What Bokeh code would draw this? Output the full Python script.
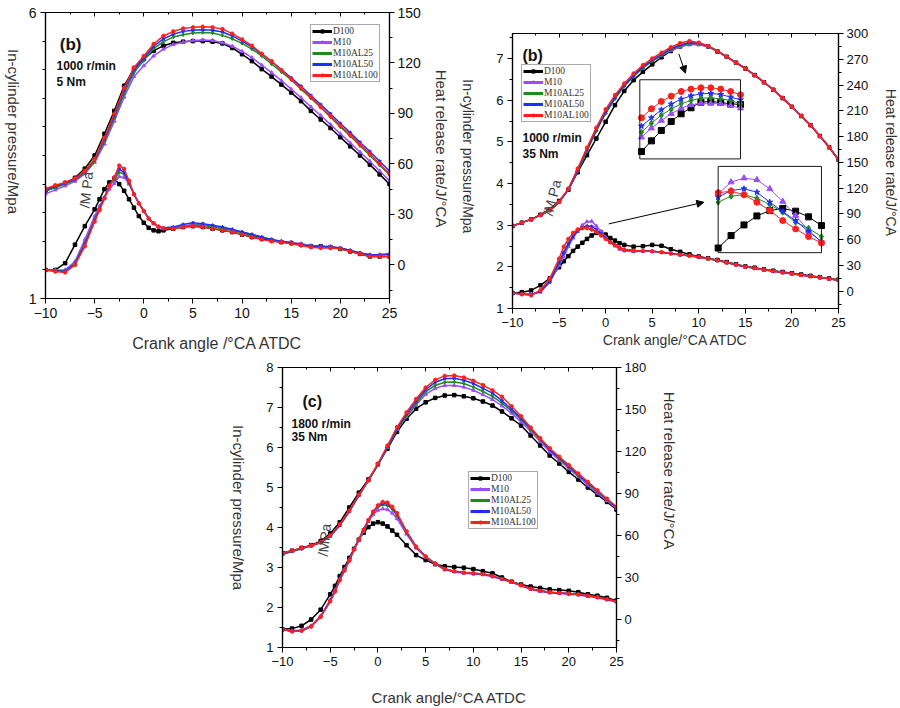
import math
from bokeh.plotting import figure
from bokeh.models import (Range1d, LinearAxis, FixedTicker, SingleIntervalTicker, Legend, LegendItem,
                          Label, Arrow, NormalHead, BoxAnnotation, Spacer)
from bokeh.layouts import row, column
from bokeh.embed import file_html
from bokeh.resources import INLINE

SERIES = ["D100", "M10", "M10AL25", "M10AL50", "M10AL100"]
COLORS = ["#000000", "#9a4dff", "#1f8a1f", "#1f2dff", "#ff1f1f"]
MARKERS = ["square", "triangle", "diamond", "star", "circle"]

# crank angle grids
CA_P = [-10, -9, -8, -7, -6, -5, -4, -3, -2, -1, 0, 1, 2, 3, 4, 5, 6, 7, 8, 9, 10, 11, 12,
        13, 14, 15, 16, 17, 18, 19, 20, 21, 22, 23, 24, 25]
CA_H = [-10, -9, -8, -7, -6, -5, -4.5, -4, -3.5, -3, -2.5, -2, -1.5, -1, -0.5, 0, 0.5, 1, 1.5, 2,
        3, 4, 5, 6, 7, 8, 9, 10, 11, 12, 13, 14, 15, 16, 17, 18, 19, 20, 21, 22, 23, 24, 25]

# ---------- panel (a): 1000 r/min, 5 Nm ----------
A_P_D100 = [2.88, 2.95, 3.02, 3.11, 3.27, 3.5, 3.88, 4.28, 4.72, 5.01, 5.19, 5.33, 5.42, 5.47, 5.49, 5.5, 5.5, 5.49,
            5.46, 5.38, 5.27, 5.15, 5.01, 4.88, 4.74, 4.6, 4.45, 4.28, 4.13, 3.98, 3.82, 3.66, 3.5, 3.34, 3.17, 3.0]
A_P_M10 = [2.83, 2.9, 2.97, 3.05, 3.18, 3.38, 3.7, 4.1, 4.52, 4.88, 5.07, 5.24, 5.36, 5.44, 5.48, 5.51, 5.52, 5.51,
           5.47, 5.41, 5.32, 5.21, 5.08, 4.95, 4.81, 4.66, 4.51, 4.35, 4.2, 4.04, 3.88, 3.72, 3.56, 3.4, 3.23, 3.06]
A_P_AL25 = [2.88, 2.94, 3.0, 3.07, 3.2, 3.4, 3.75, 4.15, 4.58, 4.95, 5.16, 5.37, 5.49, 5.57, 5.61, 5.64, 5.65, 5.64,
            5.6, 5.54, 5.46, 5.36, 5.24, 5.1, 4.96, 4.82, 4.66, 4.5, 4.34, 4.17, 4.0, 3.84, 3.67, 3.5, 3.33, 3.16]
A_P_AL50 = [2.9, 2.96, 3.02, 3.09, 3.22, 3.43, 3.79, 4.2, 4.64, 5.0, 5.2, 5.41, 5.54, 5.62, 5.67, 5.69, 5.7, 5.69,
            5.66, 5.59, 5.5, 5.4, 5.27, 5.14, 5.0, 4.86, 4.71, 4.55, 4.39, 4.23, 4.06, 3.9, 3.73, 3.57, 3.4, 3.23]
A_P_AL100 = [2.92, 2.98, 3.03, 3.1, 3.23, 3.44, 3.81, 4.23, 4.68, 5.04, 5.24, 5.45, 5.59, 5.67, 5.72, 5.74, 5.75, 5.74,
             5.71, 5.63, 5.53, 5.42, 5.28, 5.15, 4.99, 4.84, 4.68, 4.52, 4.35, 4.19, 4.02, 3.86, 3.69, 3.53, 3.35, 3.18]

A_H_D100 = [-3, -3, 1, 12, 23, 33, 39, 45, 49, 51, 48, 44, 39, 34, 29, 25, 22, 20.5, 20, 20.5,
            21.5, 22.5, 23, 22.5, 21.5, 20.5, 19.5, 18, 16.5, 15.5, 14.5, 13.5, 13, 12, 11, 11, 10.5, 9.5, 8, 6.5, 5, 5, 5]
A_H_M10 = [-3, -3, -3, 2, 15, 29, 35, 40, 45, 48.5, 52.5, 52, 48, 42, 36.5, 32, 27.5, 24.5, 22.5, 21.5,
           22, 23, 24, 24, 23, 22, 21, 19.5, 18, 16.5, 15, 14, 13.5, 12.5, 11.5, 11, 11, 10, 8.5, 7, 6, 6, 6.5]
A_H_AL25 = [-3, -3.5, -3.5, 1, 13, 27, 33.5, 40, 47, 51, 55, 54, 48.7, 42, 36.5, 32, 27.5, 24.7, 22.7, 21.7,
            21.7, 22.5, 23.5, 23.5, 22.5, 21.5, 20.5, 19, 17.5, 16, 15, 14, 13, 12, 11, 11, 10.5, 10, 8.5, 7, 5.5, 5, 5]
A_H_AL50 = [-3, -3.5, -4, 0.5, 12, 26.5, 33, 40, 47.5, 52, 57, 55, 49, 42, 36.5, 32, 27.5, 24.7, 22.7, 22,
            22.5, 24, 25, 24.5, 23.5, 22.5, 21, 19.5, 18, 16.5, 15, 14, 13, 12, 11, 11, 10.5, 10, 8.5, 7, 6, 6, 6.5]
A_H_AL100 = [-3, -4, -4.5, 0, 11, 25.7, 32.6, 39.5, 47, 52, 59, 57, 50, 42, 36.5, 32, 27.5, 24.7, 22.7, 21.7,
             21.5, 22.5, 23, 22.5, 21.5, 20.5, 19.5, 18, 16.5, 15, 14, 13.5, 12.5, 11.5, 10.5, 10, 10, 9.5, 8, 6.5, 5, 5, 5]

# ---------- panel (b): 1000 r/min, 35 Nm ----------
B_P_D100 = [2.98, 3.06, 3.14, 3.25, 3.38, 3.58, 3.85, 4.27, 4.68, 5.08, 5.48, 5.88, 6.22, 6.48, 6.68, 6.86, 7.03, 7.18,
            7.29, 7.35, 7.35, 7.29, 7.17, 7.04, 6.9, 6.76, 6.6, 6.43, 6.25, 6.05, 5.84, 5.62, 5.4, 5.14, 4.87, 4.57]
B_P_M10 = [2.98, 3.06, 3.14, 3.24, 3.35, 3.55, 3.85, 4.3, 4.8, 5.28, 5.7, 6.05, 6.35, 6.58, 6.78, 6.94, 7.07, 7.19,
           7.28, 7.33, 7.33, 7.28, 7.17, 7.04, 6.9, 6.76, 6.6, 6.43, 6.25, 6.05, 5.84, 5.62, 5.4, 5.14, 4.87, 4.57]
B_P_AL25 = [2.98, 3.06, 3.14, 3.24, 3.35, 3.55, 3.86, 4.3, 4.78, 5.26, 5.68, 6.03, 6.33, 6.57, 6.77, 6.94, 7.08, 7.21,
            7.31, 7.36, 7.36, 7.29, 7.18, 7.04, 6.9, 6.76, 6.6, 6.43, 6.25, 6.05, 5.84, 5.62, 5.4, 5.14, 4.87, 4.57]
B_P_AL50 = [2.98, 3.06, 3.14, 3.24, 3.35, 3.55, 3.86, 4.33, 4.82, 5.3, 5.72, 6.07, 6.36, 6.6, 6.8, 6.96, 7.1, 7.23,
            7.33, 7.38, 7.37, 7.3, 7.18, 7.04, 6.9, 6.76, 6.6, 6.43, 6.25, 6.05, 5.84, 5.62, 5.4, 5.14, 4.87, 4.57]
B_P_AL100 = [2.98, 3.06, 3.14, 3.24, 3.36, 3.56, 3.88, 4.36, 4.86, 5.34, 5.78, 6.12, 6.4, 6.64, 6.84, 7.0, 7.14, 7.27,
             7.37, 7.42, 7.38, 7.3, 7.18, 7.04, 6.9, 6.76, 6.6, 6.43, 6.25, 6.05, 5.84, 5.62, 5.4, 5.14, 4.87, 4.57]

B_H_D100 = [-2, -1, 1, 7, 15, 28, 35, 41, 47, 52, 56.5, 61, 65, 68, 68.5, 66, 62, 59, 56, 54,
            52, 52.5, 54, 53, 49, 46, 43, 40.5, 38.5, 36.5, 34, 31.5, 29, 27.5, 25.5, 24, 22.5, 21, 19.5, 18, 16.5, 15, 13.5]
B_H_M10 = [-2, -3, -3, -1, 11, 30, 40, 52, 62, 70, 77, 81, 81.5, 76, 70, 63, 57, 53, 49, 47,
           46, 46.5, 46.5, 45.5, 44, 42.5, 41.5, 40, 38, 36, 33.5, 31, 28.5, 27, 25, 23.5, 22, 20.5, 19, 17.5, 16, 14.5, 13]
B_H_AL25 = [-2, -3, -4, 0, 11, 33, 45, 56, 65, 71, 73, 73, 72, 70, 66, 62, 57.5, 54, 50.5, 48.5,
            47.5, 47, 46.5, 45.5, 44, 42.5, 41.5, 40, 38, 36, 33.5, 31, 28.5, 27, 25, 23.5, 22, 20.5, 19, 17.5, 16, 14.5, 13]
B_H_AL50 = [-2, -3, -4, 0, 11, 34, 45, 55, 64, 70, 74, 76, 75.5, 72, 67, 62, 57.5, 54, 50.5, 48.5,
            47.5, 47, 46.5, 45.5, 44, 42.5, 41.5, 40, 38, 36, 33.5, 31, 28.5, 27, 25, 23.5, 22, 20.5, 19, 17.5, 16, 14.5, 13]
B_H_AL100 = [-2, -3.5, -4.7, 1.2, 14.7, 38, 52, 61, 68, 72, 74, 73.8, 72, 69, 65, 61, 57, 53.5, 50.5, 48.5,
             47.5, 47, 46.5, 45.5, 44, 42.5, 41.5, 40, 38, 36, 33.5, 31, 28.5, 27, 25, 23.5, 22, 20.5, 19, 17.5, 16, 14.5, 13]

# insets of panel (b) (relative units, axes unlabeled)
IN1_X = [0, 1, 2, 3, 4, 5, 6, 7, 8, 9, 10]
IN1_D100 = [9.3, 22.8, 35.9, 47.3, 57.0, 64.6, 71.7, 72.6, 71.3, 69.6, 68.8]
IN1_M10 = [27.4, 38.8, 48.5, 57.0, 64.1, 68.4, 70.5, 70.0, 69.6, 67.1, 64.1]
IN1_AL25 = [33.8, 45.1, 55.3, 62.9, 69.6, 73.8, 76.8, 77.2, 75.9, 73.8, 69.6]
IN1_AL50 = [41.4, 51.9, 62.0, 69.2, 75.5, 79.7, 82.3, 82.7, 81.4, 78.1, 74.7]
IN1_AL100 = [51.9, 63.3, 72.6, 79.3, 85.2, 88.2, 89.9, 89.9, 88.2, 85.2, 81.0]

IN2_X = [0, 1, 2, 3, 4, 5, 6, 7, 8]
IN2_D100 = [5.4, 19.8, 32.2, 42.6, 48.8, 51.2, 48.1, 41.5, 31.4]
IN2_M10 = [68.2, 81.8, 86.4, 84.5, 74.0, 59.3, 43.0, 25.6, 12.8]
IN2_AL25 = [58.5, 65.5, 67.1, 63.1, 55.8, 46.9, 35.2, 28.3, 18.6]
IN2_AL50 = [64.3, 72.1, 74.1, 70.1, 58.5, 47.7, 37.2, 24.4, 12.8]
IN2_AL100 = [69.4, 71.3, 67.1, 58.5, 48.8, 37.2, 27.5, 18.6, 11.2]

# ---------- panel (c): 1800 r/min, 35 Nm ----------
C_P_D100 = [3.36, 3.42, 3.49, 3.56, 3.66, 3.85, 4.13, 4.5, 4.87, 5.2, 5.58, 5.97, 6.39, 6.72, 6.97, 7.13, 7.24, 7.3,
            7.31, 7.28, 7.23, 7.15, 7.05, 6.9, 6.73, 6.55, 6.3, 6.05, 5.8, 5.6, 5.39, 5.2, 5.0, 4.82, 4.64, 4.45]
C_P_M10 = [3.33, 3.4, 3.47, 3.54, 3.62, 3.78, 4.05, 4.4, 4.8, 5.17, 5.56, 6.0, 6.45, 6.77, 7.06, 7.33, 7.48, 7.55,
           7.55, 7.51, 7.43, 7.32, 7.2, 7.04, 6.86, 6.64, 6.4, 6.15, 5.89, 5.68, 5.47, 5.27, 5.06, 4.86, 4.67, 4.48]
C_P_AL25 = [3.33, 3.4, 3.47, 3.54, 3.62, 3.78, 4.05, 4.4, 4.8, 5.17, 5.56, 6.0, 6.45, 6.8, 7.1, 7.4, 7.55, 7.63,
            7.64, 7.6, 7.51, 7.4, 7.28, 7.11, 6.92, 6.7, 6.45, 6.2, 5.93, 5.72, 5.51, 5.3, 5.1, 4.9, 4.7, 4.5]
C_P_AL50 = [3.34, 3.41, 3.48, 3.55, 3.63, 3.79, 4.06, 4.41, 4.81, 5.18, 5.58, 6.02, 6.48, 6.84, 7.16, 7.45, 7.63, 7.72,
            7.73, 7.68, 7.6, 7.48, 7.36, 7.17, 6.96, 6.73, 6.48, 6.22, 5.95, 5.74, 5.53, 5.32, 5.12, 4.92, 4.71, 4.51]
C_P_AL100 = [3.36, 3.42, 3.49, 3.55, 3.63, 3.8, 4.08, 4.42, 4.82, 5.18, 5.6, 6.05, 6.51, 6.88, 7.21, 7.5, 7.69, 7.79,
             7.8, 7.75, 7.67, 7.56, 7.43, 7.27, 7.03, 6.78, 6.5, 6.23, 5.98, 5.77, 5.56, 5.35, 5.14, 4.93, 4.72, 4.52]

C_H_D100 = [-7, -6.5, -4.5, 0, 7, 18, 24, 31, 37.5, 44, 50.5, 57, 62, 66, 68.5, 69.5, 68.5, 66.5, 63.5, 60.5,
            53, 46, 42.5, 39.5, 38, 37.5, 37, 36, 34.5, 33, 30, 27, 25, 23.5, 22.5, 21.5, 21, 20.5, 19.5, 18, 17, 15.5, 13.5]
C_H_M10 = [-7, -8, -7.5, -4.5, 2.5, 14, 21, 29, 36, 43, 50, 56.5, 63, 70, 75, 78, 79, 78.5, 76, 72,
           61, 51, 44.5, 39.5, 35.5, 34, 33, 32.5, 32, 30.5, 28.5, 26.5, 24, 21.5, 20, 19, 18.5, 18, 17.5, 16.5, 15.5, 14, 12.5]
C_H_AL25 = [-7, -8.5, -8, -5, 2, 13, 20, 28, 35, 42, 50, 57, 64, 70.5, 76.5, 80.5, 82, 81.5, 79, 74.5,
            62.5, 52, 45, 40, 36, 34.5, 33.5, 33, 32.5, 31, 29, 27, 24.5, 22, 20.5, 19.5, 19, 18.5, 18, 17, 16, 14.5, 13]
C_H_AL50 = [-7, -8.5, -8, -5, 2, 13.5, 20.5, 28.5, 35.5, 42.5, 50.5, 57.5, 64.5, 71, 77, 81, 83, 82.5, 79.5, 75,
            62.5, 52, 45, 40, 36, 34.5, 33.5, 33, 32.5, 31, 29, 27, 24.5, 22, 20.5, 19.5, 19, 18.5, 18, 17, 16, 14.5, 13]
C_H_AL100 = [-7, -8.5, -8, -5, 2, 13, 20, 28, 35, 42, 50, 57, 64, 71, 77, 81.5, 84, 83.5, 80.5, 76,
             63, 52, 45, 40, 36, 34.5, 33.5, 33, 32.5, 31, 29, 27, 24.5, 22, 20.5, 19.5, 19, 18.5, 18, 17, 16, 14.5, 13]

# axis tick positions for panel (a) left axis
A_LEFT_TICKS = [1, 6]
A_LEFT_MINOR = [1.5, 2, 2.5, 3, 3.5, 4, 4.5, 5, 5.5]

DEG = "\u00b0"
SANS = "Liberation Sans"
SERIF = "Liberation Serif"
YLABEL = "In-cylinder pressure/Mpa"
Y2LABEL = "Heat release rate/J/" + DEG + "CA"


def style_axis(ax, fs_tick, fs_lab, tick_stand=4, lab_stand=8):
    ax.axis_line_color = "black"
    ax.axis_line_width = 1.2
    ax.major_tick_line_color = "black"
    ax.minor_tick_line_color = "black"
    ax.major_tick_out = 5
    ax.major_tick_in = 0
    ax.minor_tick_out = 3
    ax.minor_tick_in = 0
    ax.major_label_text_font = SANS
    ax.major_label_text_font_size = fs_tick
    ax.major_label_text_color = "#111111"
    ax.major_label_standoff = tick_stand
    ax.axis_label_text_font = SANS
    ax.axis_label_text_font_size = fs_lab
    ax.axis_label_text_font_style = "normal"
    ax.axis_label_text_color = "#333333"
    ax.axis_label_standoff = lab_stand


def add_text(p, x, y, text, size, bold=True, angle=0, color="#111111", align="left", baseline="alphabetic"):
    p.add_layout(Label(x=x, y=y, text=text, text_font=SANS, text_font_size=size,
                       text_font_style="bold" if bold else "normal", angle=angle,
                       text_color=color, text_align=align, text_baseline=baseline))


def title_strip(width, height, text, fs, fx, fy):
    """A narrow empty plot that only carries a vertical axis title reading top to bottom."""
    s = figure(width=width, height=height, x_range=Range1d(0, 1), y_range=Range1d(0, 1),
               output_backend="svg", toolbar_location=None, x_axis_location=None, y_axis_location=None,
               min_border=0, min_border_left=0, min_border_right=0, min_border_top=0, min_border_bottom=0)
    s.outline_line_color = None
    s.grid.visible = False
    s.background_fill_color = "white"
    s.border_fill_color = "white"
    add_text(s, fx, fy, text, fs, bold=False, angle=-math.pi / 2, color="#333333",
             align="center", baseline="middle")
    return s


def make_panel(width, height, borders, yrange, y2range, lticker, rticker, xlabel, press, heat,
               fs_tick, fs_xlab, xstand, legend_loc):
    p = figure(width=width, height=height, x_range=Range1d(-10, 25), y_range=Range1d(*yrange),
               output_backend="svg", toolbar_location=None,
               min_border_left=borders[0], min_border_right=borders[1],
               min_border_top=borders[2], min_border_bottom=borders[3])
    p.extra_y_ranges = {"hrr": Range1d(*y2range)}
    p.xgrid.visible = False
    p.ygrid.visible = False
    p.outline_line_color = "black"
    p.outline_line_width = 1.2
    p.background_fill_color = "white"
    p.border_fill_color = "white"

    xa = p.xaxis[0]
    xa.ticker = SingleIntervalTicker(interval=5, num_minor_ticks=2)
    xa.axis_label = xlabel
    style_axis(xa, fs_tick, fs_xlab, 4, xstand)

    ya = p.yaxis[0]
    ya.ticker = lticker
    style_axis(ya, fs_tick, fs_xlab, 4, 0)

    ra = LinearAxis(y_range_name="hrr", ticker=rticker)
    style_axis(ra, fs_tick, fs_xlab, 3, 0)
    p.add_layout(ra, "right")

    ta = LinearAxis(ticker=SingleIntervalTicker(interval=5, num_minor_ticks=2))
    style_axis(ta, "1px", "1px", 0, 0)
    ta.major_tick_out = 0
    ta.major_tick_in = 4
    ta.minor_tick_out = 0
    ta.minor_tick_in = 2
    ta.major_label_text_alpha = 0
    p.add_layout(ta, "above")

    items = []
    for i, name in enumerate(SERIES):
        p.line(CA_P, press[i], line_color=COLORS[i], line_width=1.5)
        p.scatter(CA_P, press[i], marker=MARKERS[i], size=3.5, line_color=COLORS[i], fill_color=COLORS[i])
        p.line(CA_H, heat[i], line_color=COLORS[i], line_width=1.5, y_range_name="hrr")
        p.scatter(CA_H, heat[i], marker=MARKERS[i], size=3.5, line_color=COLORS[i], fill_color=COLORS[i],
                  y_range_name="hrr")
        # hidden twins used only for the (thicker) legend swatches
        k1 = p.line(CA_P, press[i], line_color=COLORS[i], line_width=3, visible=False)
        k2 = p.scatter(CA_P, press[i], marker=MARKERS[i], size=4, line_color=COLORS[i], fill_color=COLORS[i],
                       visible=False)
        items.append(LegendItem(label=name, renderers=[k1, k2]))
    leg = Legend(items=items, location=legend_loc, border_line_color="#555555", border_line_width=1,
                 background_fill_alpha=1, label_text_font=SERIF, label_text_font_size="9.5px",
                 label_text_color="#333333", glyph_width=20, glyph_height=8, label_height=8,
                 spacing=1, padding=1, margin=0, label_standoff=1, click_policy="none")
    p.add_layout(leg)
    return p


# ---------------- panel (a) ----------------
pa = make_panel(403, 355, (20, 39, 12, 57), (1, 6), (-20, 150),
                FixedTicker(ticks=A_LEFT_TICKS, minor_ticks=A_LEFT_MINOR),
                SingleIntervalTicker(interval=30, num_minor_ticks=2),
                "Crank angle /" + DEG + "CA ATDC",
                [A_P_D100, A_P_M10, A_P_AL25, A_P_AL50, A_P_AL100],
                [A_H_D100, A_H_M10, A_H_AL25, A_H_AL50, A_H_AL100],
                "14px", "16px", 14, (265, 216))
add_text(pa, -8.55, 5.44, "(b)", "17px")
add_text(pa, -8.88, 5.07, "1000 r/min", "12px")
add_text(pa, -8.88, 4.79, "5 Nm", "12px")
add_text(pa, -5.85, 2.9, "/M Pa", "14px", bold=False, angle=math.pi / 2 - 0.1, color="#444444", align="center")
la = title_strip(25, 355, YLABEL, "15px", 0.5, 0.631)
ra_ = title_strip(22, 355, Y2LABEL, "15px", 0.61, 0.583)

# ---------------- panel (b) ----------------
pb = make_panel(401, 355, (35, 40, 33, 47), (1, 7.6), (-20, 300),
                SingleIntervalTicker(interval=1, num_minor_ticks=2),
                SingleIntervalTicker(interval=30, num_minor_ticks=2),
                "Crank angle/" + DEG + "CA ATDC",
                [B_P_D100, B_P_M10, B_P_AL25, B_P_AL50, B_P_AL100],
                [B_H_D100, B_H_M10, B_H_AL25, B_H_AL50, B_H_AL100],
                "13px", "14px", 2, (9, 186))
add_text(pb, -8.93, 7.07, "(b)", "16px")
add_text(pb, -8.93, 5.1, "1000 r/min", "12px")
add_text(pb, -8.93, 4.72, "35 Nm", "12px")
add_text(pb, -5.75, 3.66, "/M Pa", "14px", bold=False, angle=math.pi / 2 - 0.25, color="#444444", align="center")
lb = title_strip(27, 355, YLABEL, "14px", 0.63, 0.561)
rb = title_strip(22, 355, Y2LABEL, "14px", 0.57, 0.544)

# insets
pb.add_layout(BoxAnnotation(left=3.67, right=14.48, bottom=4.59, top=6.49, fill_alpha=0,
                            line_color="black", line_width=1, line_alpha=0.9))
pb.add_layout(BoxAnnotation(left=12.08, right=23.17, bottom=2.34, top=4.41, fill_alpha=0,
                            line_color="black", line_width=1, line_alpha=0.9))
sub1 = pb.subplot(x_source=Range1d(-0.17, 10), y_source=Range1d(0, 100),
                  x_target=Range1d(3.67, 14.48), y_target=Range1d(4.59, 6.49))
sub2 = pb.subplot(x_source=Range1d(0, 8), y_source=Range1d(0, 100),
                  x_target=Range1d(12.08, 23.17), y_target=Range1d(2.34, 4.41))
for i, (v1, v2) in enumerate(zip([IN1_D100, IN1_M10, IN1_AL25, IN1_AL50, IN1_AL100],
                                 [IN2_D100, IN2_M10, IN2_AL25, IN2_AL50, IN2_AL100])):
    sub1.line(IN1_X, v1, line_color=COLORS[i], line_width=1)
    sub1.scatter(IN1_X, v1, marker=MARKERS[i], size=6, line_color=COLORS[i], fill_color=COLORS[i])
    sub2.line(IN2_X, v2, line_color=COLORS[i], line_width=1)
    sub2.scatter(IN2_X, v2, marker=MARKERS[i], size=6, line_color=COLORS[i], fill_color=COLORS[i])
pb.add_layout(Arrow(end=NormalHead(size=7, fill_color="black", line_color="black"),
                    x_start=7.86, y_start=7.11, x_end=8.57, y_end=6.65, line_width=1))
pb.add_layout(Arrow(end=NormalHead(size=7, fill_color="black", line_color="black"),
                    x_start=0.34, y_start=3.03, x_end=10.54, y_end=3.55, line_width=1))

# ---------------- panel (c) ----------------
pc = make_panel(405, 353, (32, 39, 12, 60), (1, 8), (-20, 180),
                SingleIntervalTicker(interval=1, num_minor_ticks=2),
                SingleIntervalTicker(interval=30, num_minor_ticks=2),
                "Crank angle/" + DEG + "CA ATDC",
                [C_P_D100, C_P_M10, C_P_AL25, C_P_AL50, C_P_AL100],
                [C_H_D100, C_H_M10, C_H_AL25, C_H_AL50, C_H_AL100],
                "13px", "15px", 20, (186, 118))
add_text(pc, -7.9, 7.15, "(c)", "16px")
add_text(pc, -9.06, 6.6, "1800 r/min", "12px")
add_text(pc, -9.06, 6.26, "35 Nm", "12px")
add_text(pc, -5.6, 3.69, "/MPa", "14px", bold=False, angle=math.pi / 2 - 0.1, color="#444444", align="center")
lc = title_strip(25, 353, YLABEL, "15px", 0.52, 0.569)
rc = title_strip(25, 353, Y2LABEL, "15px", 0.54, 0.674)

top = row(column(la), column(pa), column(ra_), column(lb), column(pb), column(rb))
bottom = row(Spacer(width=225, height=353), column(lc), column(pc), column(rc))
layout = column(top, bottom)

with open("out.html", "w") as f:
    f.write(file_html(layout, INLINE, "Heat release"))
